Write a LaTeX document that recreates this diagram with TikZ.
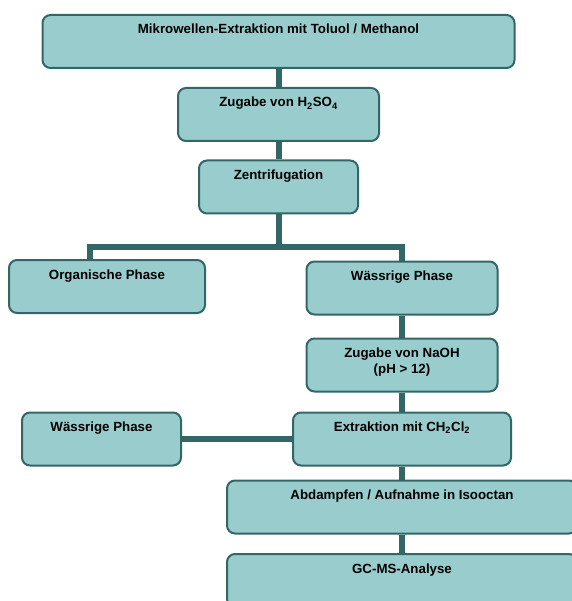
\documentclass[tikz,border=0pt]{standalone}
\usepackage{fontspec}
\setmainfont{Liberation Sans}
\usetikzlibrary{arrows.meta, positioning}
\definecolor{boxfill}{RGB}{153,204,204}
\definecolor{boxline}{RGB}{51,102,102}

\begin{document}
\begin{tikzpicture}[x=1pt, y=-1pt,
  box/.style={draw=boxline, fill=boxfill, line width=2pt, rounded corners=8pt,
    inner xsep=4pt, inner ysep=0pt, text height=19pt, text depth=34pt,
    font=\fontsize{13.3}{16}\selectfont\bfseries},
  conn/.style={draw=boxline, line width=6pt}]
  \useasboundingbox (0,0) rectangle (571,601);
  % Main steps
  \node[box, minimum width=472pt] (mikro) at (278.5,41.5) {Mikrowellen-Extraktion mit Toluol / Methanol};
  \node[box, minimum width=201pt] (hso) at (278.5,114.5) {Zugabe von H\textsubscript{2}SO\textsubscript{4}};
  \node[box, minimum width=159pt] (zentri) at (278.5,187) {Zentrifugation};
  % Phases
  \node[box, minimum width=196pt] (organ) at (107,286.5) {Organische Phase};
  \node[box, minimum width=191pt] (waessA) at (402,288) {Wässrige Phase};
  \node[box, minimum width=191pt] (naoh) at (402,365) {\begin{tabular}[t]{@{}c@{}}Zugabe von NaOH\\(pH > 12)\end{tabular}};
  \node[box, minimum width=218pt] (extr) at (402,439) {Extraktion mit CH\textsubscript{2}Cl\textsubscript{2}};
  \node[box, minimum width=159pt] (waessB) at (101.5,439) {Wässrige Phase};
  \node[box, minimum width=350pt] (abdampf) at (402,507) {Abdampfen / Aufnahme in Isooctan};
  \node[box, minimum width=350pt] (gcms) at (402,580.5) {GC-MS-Analyse};
  % Connectors
  \coordinate (split) at (278.5,247);
  \draw[conn] (mikro.south) -- (hso.north);
  \draw[conn] (hso.south) -- (zentri.north);
  \draw[conn] (zentri.south) -- (split);
  \draw[conn] ([xshift=-17pt]organ.north) |- (split) -| (waessA.north);
  \draw[conn] (waessA.south) -- (naoh.north);
  \draw[conn] (naoh.south) -- (extr.north);
  \draw[conn] (waessB.east) -- (extr.west);
  \draw[conn] (extr.south) -- (abdampf.north);
  \draw[conn] (abdampf.south) -- (gcms.north);
\end{tikzpicture}
\end{document}
